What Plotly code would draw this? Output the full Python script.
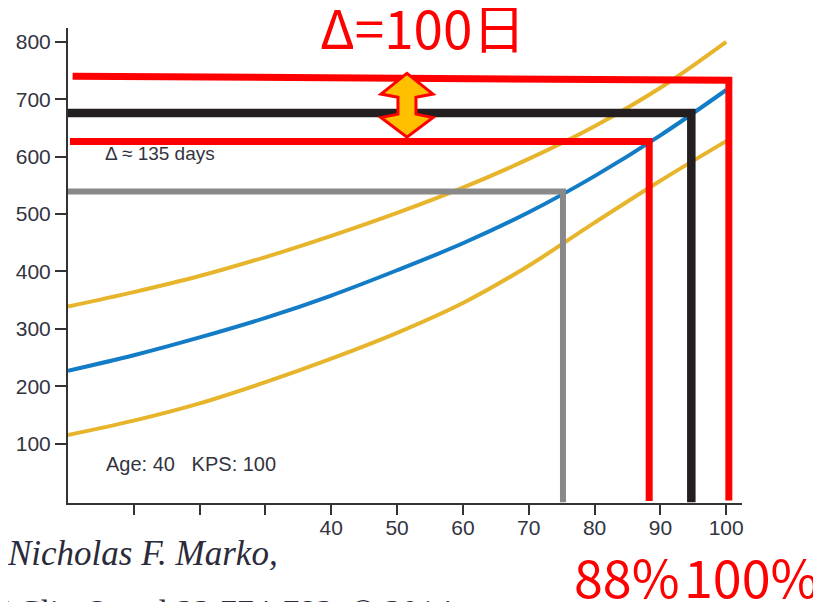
import plotly.graph_objects as go

# ---- data ----
kps_pct = [0, 10, 20, 30, 40, 50, 60, 70, 80, 90, 100]
survival_median = [227, 254, 285, 319, 358, 402, 449, 503, 566, 637, 716]
survival_upper = [339, 364, 392, 425, 462, 502, 546, 596, 653, 720, 800]
survival_lower = [115, 140, 170, 207, 248, 293, 345, 410, 485, 558, 627]

x_ticks = [10, 20, 30, 40, 50, 60, 70, 80, 90, 100]
y_ticks = [100, 200, 300, 400, 500, 600, 700, 800]

# guide lines (hand-drawn annotations on the original figure)
gray_x, gray_y = [-0.5, 75.2, 75.2], [539, 539, -2]
black_x, black_y = [-0.5, 94.7, 94.7], [676, 676, -2]
red_in_x, red_in_y = [0.3, 88.3, 88.3], [626.5, 626.5, 0]
red_out_x, red_out_y = [0.7, 100.4, 100.4], [740, 733, 1]

# ---- layout geometry (page body has an 8px margin) ----
OFF = 8
W, H = 821 - OFF, 602 - OFF
ML, MR, MT, MB = 60, 79, 20, 99
PW, PH = W - ML - MR, H - MT - MB


def xp(px_ref):
    return (px_ref - OFF - ML) / PW


def yp(py_ref):
    return (H - MB - (py_ref - OFF)) / PH


GOLD = "#E6B52C"
BLUE = "#137CC6"
TXT = "#34343f"

fig = go.Figure()
for ys, col in [(survival_upper, GOLD), (survival_lower, GOLD), (survival_median, BLUE)]:
    fig.add_trace(go.Scatter(x=kps_pct, y=ys, mode="lines", line=dict(color=col, width=4, shape="spline"),
                             hoverinfo="skip", showlegend=False))

for gx, gy, col, w in [(gray_x, gray_y, "#898989", 6), (black_x, black_y, "#231F20", 8.5),
                       (red_in_x, red_in_y, "#FF0000", 7), (red_out_x, red_out_y, "#FF0000", 7)]:
    fig.add_trace(go.Scatter(x=gx, y=gy, mode="lines", line=dict(color=col, width=w),
                             hoverinfo="skip", showlegend=False))

# double-headed arrow between the two red lines
ax_c = 51.5
a_top, a_bot = 745, 634
head_w, shaft_w = 3.95, 1.37
head_top_base, head_bot_base = 709, 668
barb_top, barb_bot = 703.5, 674
arrow_path = (
    f"M {ax_c},{a_top} L {ax_c + head_w},{head_top_base} L {ax_c + shaft_w},{barb_top} "
    f"L {ax_c + shaft_w},{barb_bot} L {ax_c + head_w},{head_bot_base} L {ax_c},{a_bot} "
    f"L {ax_c - head_w},{head_bot_base} L {ax_c - shaft_w},{barb_bot} L {ax_c - shaft_w},{barb_top} "
    f"L {ax_c - head_w},{head_top_base} Z"
)

shapes = [
    dict(type="path", path=arrow_path, xref="x", yref="y", fillcolor="#FFC000",
         line=dict(color="#FF0000", width=3), layer="above"),
    dict(type="rect", xref="paper", yref="paper", x0=xp(-5), x1=xp(277), y0=yp(521), y1=yp(620),
         fillcolor="white", line=dict(width=0), layer="above"),
]

annotations = [
    dict(text="Δ=100日", x=xp(422), y=yp(26), xref="paper", yref="paper", showarrow=False,
         xanchor="center", yanchor="middle",
         font=dict(family="Noto Sans CJK JP", size=53, color="#FF0000")),
    dict(text="88%", x=xp(627), y=yp(575), xref="paper", yref="paper", showarrow=False,
         xanchor="center", yanchor="middle",
         font=dict(family="Noto Sans CJK JP", size=52, color="#FF0000")),
    dict(text="100%", x=xp(751), y=yp(575), xref="paper", yref="paper", showarrow=False,
         xanchor="center", yanchor="middle",
         font=dict(family="Noto Sans CJK JP", size=52, color="#FF0000")),
    dict(text="Δ ≈ 135 days", x=xp(103), y=yp(153), xref="paper", yref="paper", showarrow=False,
         xanchor="left", yanchor="middle",
         font=dict(family="Liberation Sans, Arial", size=19, color=TXT)),
    dict(text="Age: 40   KPS: 100", x=xp(104), y=yp(464), xref="paper", yref="paper", showarrow=False,
         xanchor="left", yanchor="middle",
         font=dict(family="Liberation Sans, Arial", size=20, color=TXT)),
    dict(text="<i>Nicholas F. Marko,</i>", x=xp(5), y=yp(553), xref="paper", yref="paper", showarrow=False,
         xanchor="left", yanchor="middle",
         font=dict(family="Liberation Serif, Times New Roman", size=35, color="#2a2a3a")),
    dict(text="J Clin Oncol 32:774-782. © 2014", x=xp(-6), y=yp(611), xref="paper", yref="paper",
         showarrow=False, xanchor="left", yanchor="middle",
         font=dict(family="Liberation Serif, Times New Roman", size=34, color="#2a2a3a")),
]

axis_font = dict(family="Liberation Sans, Arial", size=21, color=TXT)
fig.update_layout(
    width=W, height=H,
    margin=dict(l=ML, r=MR, t=MT, b=MB, pad=0),
    paper_bgcolor="white", plot_bgcolor="white",
    shapes=shapes, annotations=annotations,
    xaxis=dict(range=[0, 102.4], tickvals=x_ticks, ticks="outside", ticklen=10, tickwidth=2,
               tickcolor="#333333", showline=True, linecolor="#333333", linewidth=2,
               showgrid=False, zeroline=False, tickfont=axis_font, automargin=False,
               ticklabelstandoff=-5),
    yaxis=dict(range=[-3.4, 824], tickvals=y_ticks, ticks="outside", ticklen=11, tickwidth=2,
               tickcolor="#333333", showline=True, linecolor="#333333", linewidth=2,
               showgrid=False, zeroline=False, tickfont=axis_font, automargin=False),
)

fig.write_html("out.html")
